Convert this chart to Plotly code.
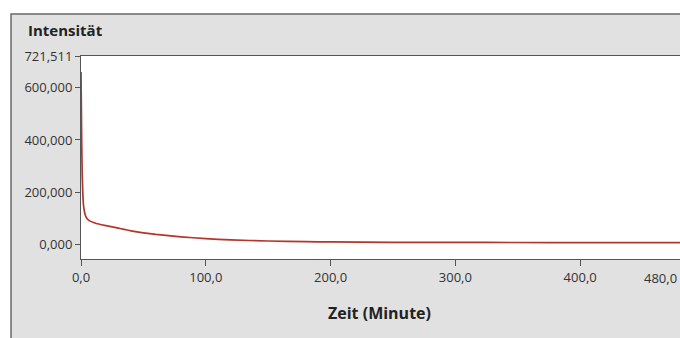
import plotly.graph_objects as go

# Intensity decay over time
zeit_minuten = [0, 0.3, 0.6, 1, 1.5, 2, 3, 4, 5, 7, 10, 15, 20, 30, 40, 50, 60,
                80, 100, 120, 150, 180, 200, 250, 300, 350, 400, 450, 480]
intensitaet = [660000, 520000, 380000, 260000, 190000, 150000, 120000, 105000,
               97000, 90000, 84000, 77000, 72000, 62000, 52000, 44000, 38000,
               29000, 22000, 17000, 13000, 10500, 9500, 8000, 7500, 7200, 7000,
               7000, 7000]

y_tickvals = [0, 200000, 400000, 600000, 721511]
y_ticktext = ["0,000", "200,000", "400,000", "600,000", "721,511"]
x_tickvals = [0, 100, 200, 300, 400, 480]
x_ticktext = ["0,0", "100,0", "200,0", "300,0", "400,0", "480,0"]

W, H = 680, 338
L, R, T, B = 81, 0, 56, 79
pw, ph = W - L - R, H - T - B


def px_x(px):
    return (px - L) / pw


def px_y(py):
    return (H - B - py) / ph


fig = go.Figure()
fig.add_trace(go.Scatter(
    x=zeit_minuten, y=intensitaet, mode="lines",
    line=dict(color="#b5352a", width=1.7, shape="spline", smoothing=0.5),
    hoverinfo="skip", showlegend=False,
))

FONT = "Open Sans, sans-serif"
axis_font = dict(family=FONT, size=13, color="#333333")

# the last x tick label sits on the right edge, so it is right-aligned there
annotations = [
    dict(text=x_ticktext[-1], xref="paper", yref="paper", x=px_x(679),
         y=px_y(278), xanchor="right", yanchor="middle", showarrow=False,
         font=axis_font),
    dict(text="<b>Intensität</b>", xref="paper", yref="paper",
         x=px_x(26), y=px_y(30), xanchor="left", yanchor="middle",
         showarrow=False, font=dict(family=FONT, size=15, color="#222222")),
    dict(text="<b>Zeit (Minute)</b>", xref="paper", yref="paper",
         x=px_x(379), y=px_y(313), xanchor="center", yanchor="middle",
         showarrow=False, font=dict(family=FONT, size=16, color="#222222")),
]

fig.update_layout(
    width=W, height=H,
    margin=dict(l=L, r=R, t=T, b=B),
    paper_bgcolor="white",
    plot_bgcolor="white",
    xaxis=dict(
        range=[0, 480], tickvals=x_tickvals,
        ticktext=x_ticktext[:-1] + [""],
        showgrid=False, zeroline=False, showline=True, linecolor="#555555",
        linewidth=1, ticks="outside", ticklen=6, tickcolor="#555555",
        tickfont=axis_font, mirror=True,
    ),
    yaxis=dict(
        range=[-56000, 721511], tickvals=y_tickvals, ticktext=y_ticktext,
        showgrid=False, zeroline=False, showline=True, linecolor="#555555",
        linewidth=1, ticks="outside", ticklen=5, tickcolor="#555555",
        tickfont=axis_font,
    ),
    shapes=[
        # outer grey panel
        dict(type="rect", xref="paper", yref="paper", layer="below",
             x0=px_x(11), x1=px_x(700), y0=px_y(360), y1=px_y(14),
             fillcolor="#e1e1e1", line=dict(color="#6a6a6a", width=1.5)),
        # white plot area
        dict(type="rect", xref="paper", yref="paper", layer="below",
             x0=0, x1=1, y0=0, y1=1,
             fillcolor="white", line=dict(width=0)),
    ],
    annotations=annotations,
)

fig.write_html("out.html")
